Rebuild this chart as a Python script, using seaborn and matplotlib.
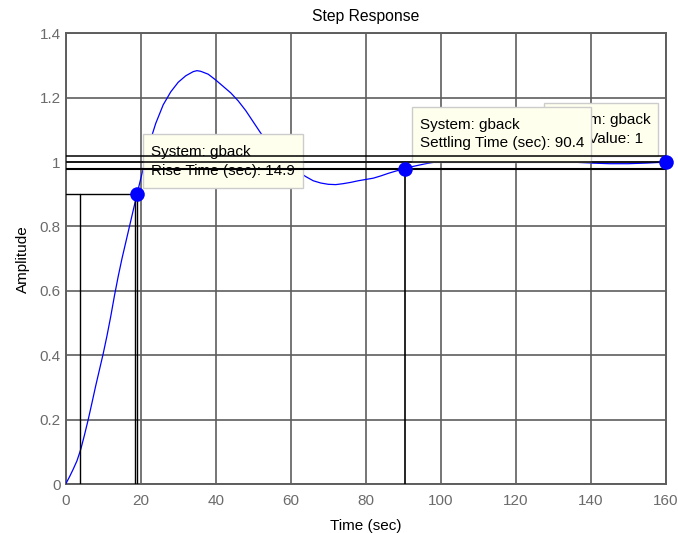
import matplotlib
matplotlib.use("Agg")
import matplotlib.pyplot as plt
import seaborn as sns
import pandas as pd
from matplotlib.patches import Rectangle

# ---------------- data ----------------
time_sec = [0, 1, 2, 3, 4, 5, 6, 7, 8, 9, 10, 11, 12, 13, 14, 15, 16, 17, 18, 19,
            20, 21, 22, 23, 24, 26, 28, 30, 32, 34, 35, 36, 38, 40, 42, 44, 46, 48,
            50, 52, 54, 56, 58, 60, 62, 64, 66, 68, 70, 72, 74, 76, 78, 80, 82, 84,
            86, 88, 90.4, 92, 94, 96, 100, 105, 110, 115, 120, 125, 130, 135, 140,
            145, 150, 155, 160]
amplitude = [0, 0.022, 0.046, 0.072, 0.107, 0.152, 0.2, 0.252, 0.305, 0.355, 0.405,
             0.46, 0.52, 0.585, 0.645, 0.7, 0.75, 0.8, 0.85, 0.9, 0.948, 0.995, 1.04,
             1.083, 1.12, 1.178, 1.218, 1.248, 1.268, 1.281, 1.284, 1.282, 1.273,
             1.255, 1.235, 1.215, 1.19, 1.16, 1.125, 1.09, 1.06, 1.035, 1.01, 0.99,
             0.97, 0.955, 0.942, 0.935, 0.931, 0.93, 0.933, 0.937, 0.942, 0.946,
             0.95, 0.957, 0.965, 0.972, 0.98, 0.985, 0.99, 0.995, 1.003, 1.008,
             1.01, 1.009, 1.007, 1.005, 1.003, 1.0, 0.997, 0.995, 0.995, 0.997, 1.0]

rise_start = 3.9
rise_end = 18.9
rise_level = 0.9
rise_time = 14.9
settling_time = 90.4
settling_level = 0.98
settle_band = [0.98, 1.0, 1.02]
final_time = 160
final_value = 1

x_ticks = [0, 20, 40, 60, 80, 100, 120, 140, 160]
y_ticks = [0, 0.2, 0.4, 0.6, 0.8, 1.0, 1.2, 1.4]
y_tick_labels = ["0", "0.2", "0.4", "0.6", "0.8", "1", "1.2", "1.4"]

system_name = "gback"

# ---------------- style ----------------
sns.set_theme(style="whitegrid")
plt.rcParams["font.family"] = ["Liberation Sans", "DejaVu Sans"]

GRID = "#5e5e5e"
TICK = "#6b6b6b"
BOX_FACE = "#ffffee"
BOX_EDGE = "#cccccc"

fig = plt.figure(figsize=(6.78, 5.33), dpi=100)
ax = fig.add_axes([0.0969, 0.0919, 0.982 - 0.0969, 0.9375 - 0.0919])

df = pd.DataFrame({"Time (sec)": time_sec, "Amplitude": amplitude})
sns.lineplot(data=df, x="Time (sec)", y="Amplitude", ax=ax, color="#0000ff",
             linewidth=0.9, sort=False, zorder=3)

ax.set_xlim(x_ticks[0], x_ticks[-1])
ax.set_ylim(y_ticks[0], y_ticks[-1])
ax.set_xticks(x_ticks)
ax.set_xticklabels([str(v) for v in x_ticks])
ax.set_yticks(y_ticks)
ax.set_yticklabels(y_tick_labels)
ax.tick_params(axis="both", length=0, labelsize=11, labelcolor=TICK)
ax.tick_params(axis="x", pad=7)
ax.tick_params(axis="y", pad=3.5)
ax.grid(True, color=GRID, linewidth=1.2, linestyle="-")
ax.set_axisbelow(True)
for s in ax.spines.values():
    s.set_color(GRID)
    s.set_linewidth(1.4)
ax.set_facecolor("white")

# data tip boxes (under characteristic lines, over curve)
def tip(x0, x1, y0, y1, tx, ty1, ty2, l1, l2, z):
    ax.add_patch(Rectangle((x0, y0), x1 - x0, y1 - y0, facecolor=BOX_FACE,
                           edgecolor=BOX_EDGE, linewidth=1.0, zorder=z))
    ax.text(tx, ty1, l1, fontsize=11, color="black", va="center", ha="left",
            zorder=z + 0.1, clip_on=True)
    ax.text(tx, ty2, l2, fontsize=11, color="black", va="center", ha="left",
            zorder=z + 0.1, clip_on=True)

tip(127.4, 158.0, 1.019, 1.185, 129.3, 1.130, 1.071,
    f"System: {system_name}", f"Final Value: {final_value}", 4)
tip(92.4, 140.1, 1.001, 1.170, 94.5, 1.115, 1.058,
    f"System: {system_name}", f"Settling Time (sec): {settling_time}", 5)
tip(20.7, 63.2, 0.921, 1.086, 22.7, 1.031, 0.972,
    f"System: {system_name}", f"Rise Time (sec): {rise_time}", 6)

# characteristic lines
for lvl in settle_band:
    lw = 1.5 if lvl == settling_level else 1.1
    ax.plot([0, final_time], [lvl, lvl], color="black", linewidth=lw, zorder=8)
ax.plot([0, rise_end], [rise_level, rise_level], color="black", linewidth=1.0, zorder=8)
ax.plot([rise_start, rise_start], [0, rise_level], color="black", linewidth=1.0, zorder=8)
ax.plot([rise_end - 0.4, rise_end - 0.4], [0, rise_level], color="black", linewidth=1.0, zorder=8)
ax.plot([rise_end, rise_end], [0, rise_level], color="black", linewidth=1.0, zorder=8)
ax.plot([settling_time, settling_time], [0, settling_level], color="black",
        linewidth=1.2, zorder=8)

pts = pd.DataFrame({"t": [rise_end, settling_time, final_time],
                    "a": [rise_level, settling_level, final_value]})
sns.scatterplot(data=pts, x="t", y="a", ax=ax, color="#0000ff", s=110,
                edgecolor="#0000ff", linewidth=0, zorder=10, clip_on=False)

ax.set_title("Step Response", fontsize=11.3, color="black", pad=9)
ax.set_xlabel("Time (sec)", fontsize=11, color="black", labelpad=8)
ax.set_ylabel("Amplitude", fontsize=11, color="black", labelpad=7)

fig.savefig("out.png", dpi=100, facecolor="white")
